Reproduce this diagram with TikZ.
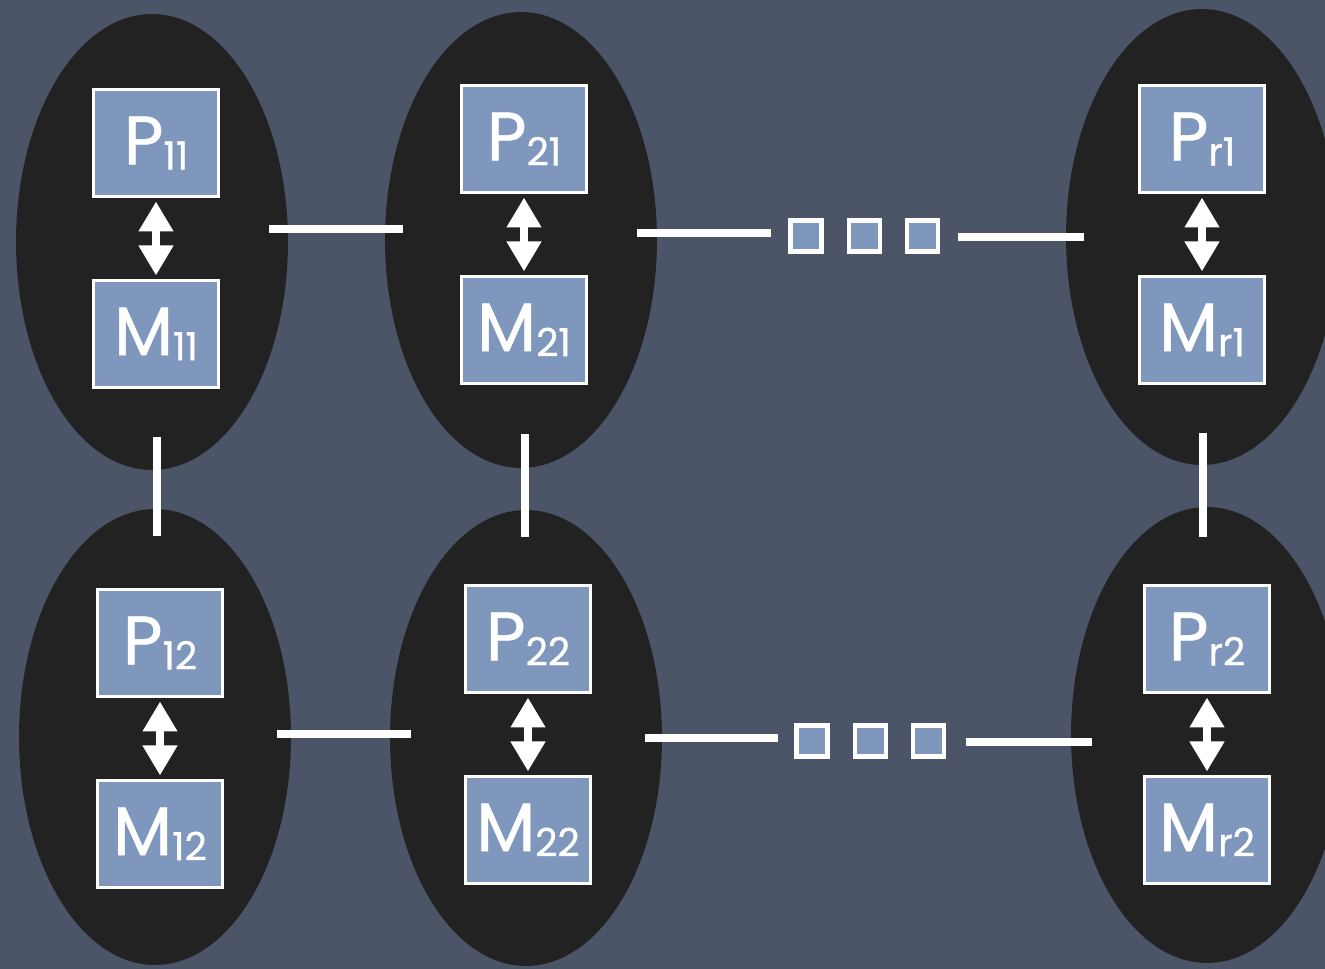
\documentclass[tikz,border=0pt]{standalone}
\usepackage{fontspec}
\setmainfont{Poppins}[FakeBold=0.8]
\usetikzlibrary{shapes.geometric, arrows.meta, positioning}

\definecolor{slate}{RGB}{76,85,104}
\definecolor{ovalblack}{RGB}{34,34,34}
\definecolor{boxblue}{RGB}{127,151,189}
\newcommand{\unitlbl}[2]{{\fontsize{39}{40}\selectfont #1}\raisebox{-0.1cm}{\fontsize{22}{22}\selectfont #2}}

\begin{document}
\begin{tikzpicture}[
    x=0.02cm, y=-0.02cm,
    node distance=1.62cm,
    cluster/.style={ellipse, fill=ovalblack, minimum width=5.44cm, minimum height=9.12cm, inner sep=0pt},
    unitbox/.style={rectangle, draw=white, line width=1.7pt, fill=boxblue, minimum width=2.5cm, minimum height=2.14cm, inner sep=0pt, text=white, text centered},
    dotbox/.style={rectangle, draw=white, line width=2.3pt, fill=boxblue, minimum size=0.62cm, inner sep=0pt},
    link/.style={white, line width=0.16cm},
    biarrow/.style={white, line width=0.16cm, {Triangle[width=0.66cm,length=0.6cm]}-{Triangle[width=0.66cm,length=0.6cm]}, shorten <=2pt, shorten >=2pt}
]

% Background
\useasboundingbox (0,0) rectangle (1325,969);
\clip (0,0) rectangle (1325,969);
\fill[slate] (0,0) rectangle (1325,969);

% Ovals
\node (e11) [cluster] at (152,242) {};
\node (e21) [cluster] at (521,240) {};
\node (e31) [cluster] at (1202,237) {};
\node (e12) [cluster] at (155,737) {};
\node (e22) [cluster] at (526,738) {};
\node (e32) [cluster] at (1207,735) {};

% Processors and memories
\node (p11) [unitbox] at (156,143) {\unitlbl{P}{11}};
\node (m11) [unitbox, below=of p11] {\unitlbl{M}{11}};
\node (p21) [unitbox] at (524,139) {\unitlbl{P}{21}};
\node (m21) [unitbox, below=of p21] {\unitlbl{M}{21}};
\node (pr1) [unitbox] at (1202,139) {\unitlbl{P}{r1}};
\node (mr1) [unitbox, below=of pr1] {\unitlbl{M}{r1}};
\node (p12) [unitbox] at (160,643) {\unitlbl{P}{12}};
\node (m12) [unitbox, below=of p12] {\unitlbl{M}{12}};
\node (p22) [unitbox] at (528,639) {\unitlbl{P}{22}};
\node (m22) [unitbox, below=of p22] {\unitlbl{M}{22}};
\node (pr2) [unitbox] at (1207,639) {\unitlbl{P}{r2}};
\node (mr2) [unitbox, below=of pr2] {\unitlbl{M}{r2}};

% Dots
\node (d11) [dotbox] at (806,236) {};
\node (d12) [dotbox, right=0.46cm of d11] {};
\node (d13) [dotbox, right=0.46cm of d12] {};
\node (d21) [dotbox] at (812,741) {};
\node (d22) [dotbox, right=0.46cm of d21] {};
\node (d23) [dotbox, right=0.46cm of d22] {};

% Arrows
\foreach \u in {11,21,r1,12,22,r2}
    \draw [biarrow] (p\u) -- (m\u);

% Links
\draw [link] ([shift={(-19,-13)}]e11.east) -- ([shift={(18,-11)}]e21.west);
\draw [link] ([shift={(-20,-7)}]e21.east) -- ([shift={(-17,-3)}]d11.west);
\draw [link] ([shift={(18,1)}]d13.east) -- ([shift={(18,0)}]e31.west);
\draw [link] ([shift={(-14,-3)}]e12.east) -- ([shift={(21,-4)}]e22.west);
\draw [link] ([shift={(-17,0)}]e22.east) -- ([shift={(-16,-3)}]d21.west);
\draw [link] ([shift={(20,1)}]d23.east) -- ([shift={(21,7)}]e32.west);
\draw [link] ([shift={(5,-33)}]e11.south) -- ([shift={(2,27)}]e12.north);
\draw [link] ([shift={(4,-34)}]e21.south) -- ([shift={(-1,27)}]e22.north);
\draw [link] ([shift={(1,-32)}]e31.south) -- ([shift={(-4,30)}]e32.north);

\end{tikzpicture}
\end{document}
